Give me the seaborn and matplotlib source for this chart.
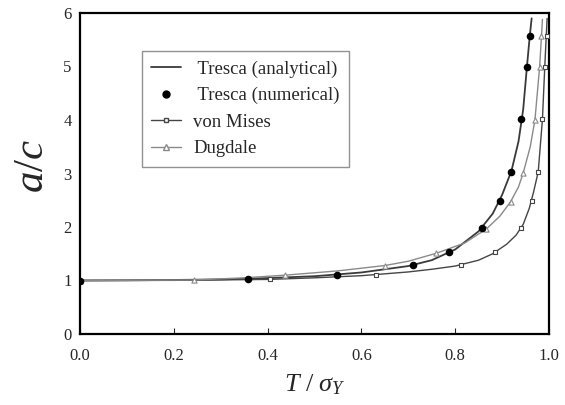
import matplotlib
matplotlib.use("Agg")
import matplotlib.pyplot as plt
import seaborn as sns
import pandas as pd
from matplotlib.lines import Line2D

# ---- data ----
tresca_an_x = [0.0, 0.1, 0.2, 0.3, 0.4, 0.5, 0.6, 0.7, 0.75, 0.8, 0.85, 0.88, 0.9, 0.92, 0.935, 0.945, 0.953, 0.959, 0.963]
tresca_an_y = [1.0, 1.003, 1.01, 1.02, 1.045, 1.08, 1.15, 1.27, 1.38, 1.58, 1.92, 2.25, 2.6, 3.05, 3.6, 4.2, 5.0, 5.57, 5.9]

tresca_num_x = [0.0, 0.359, 0.548, 0.711, 0.786, 0.858, 0.895, 0.918, 0.941, 0.953, 0.959]
tresca_num_y = [1.0, 1.03, 1.11, 1.29, 1.53, 1.98, 2.49, 3.03, 4.01, 5.0, 5.57]

mises_line_x = [0.0, 0.2, 0.4, 0.5, 0.6, 0.7, 0.75, 0.8, 0.85, 0.88, 0.91, 0.93, 0.945, 0.958, 0.967, 0.977, 0.986, 0.991, 0.996]
mises_line_y = [1.0, 1.003, 1.02, 1.05, 1.09, 1.16, 1.21, 1.27, 1.38, 1.50, 1.68, 1.85, 2.05, 2.35, 2.65, 3.03, 4.01, 5.0, 5.9]
mises_pts_x = [0.0, 0.405, 0.632, 0.813, 0.884, 0.941, 0.964, 0.977, 0.986, 0.991, 0.995]
mises_pts_y = [1.0, 1.03, 1.11, 1.29, 1.53, 1.98, 2.49, 3.03, 4.01, 5.0, 5.57]

dug_line_x = [0.0, 0.244, 0.35, 0.4375, 0.55, 0.65, 0.7, 0.76, 0.82, 0.866, 0.895, 0.918, 0.935, 0.945, 0.96, 0.97, 0.98, 0.984, 0.986]
dug_line_y = [1.0, 1.01, 1.05, 1.10, 1.18, 1.28, 1.36, 1.51, 1.70, 1.96, 2.2, 2.47, 2.75, 3.01, 3.5, 4.0, 4.99, 5.57, 5.88]
dug_pts_x = [0.0, 0.244, 0.4375, 0.65, 0.76, 0.866, 0.918, 0.945, 0.97, 0.980, 0.984]
dug_pts_y = [1.0, 1.01, 1.10, 1.28, 1.51, 1.96, 2.47, 3.01, 4.0, 4.99, 5.57]

x_ticks = [0.0, 0.2, 0.4, 0.6, 0.8, 1.0]
x_ticklabels = ["0.0", "0.2", "0.4", "0.6", "0.8", "1.0"]
y_ticks = [0, 1, 2, 3, 4, 5, 6]

sns.set_style("white")
plt.rcParams["font.family"] = ["Liberation Serif", "DejaVu Serif"]
plt.rcParams["mathtext.fontset"] = "custom"
plt.rcParams["mathtext.rm"] = "Liberation Serif"
plt.rcParams["mathtext.it"] = "Liberation Serif:italic"

fig = plt.figure(figsize=(5.65, 4.05), dpi=100)
ax = fig.add_axes([80/565, 71/405, 469/565, 321/405])

c_an = "#3a3a3a"
c_vm = "#454545"
c_dg = "#8a8a8a"

sns.lineplot(x=tresca_an_x, y=tresca_an_y, ax=ax, color=c_an, lw=1.3, sort=False, estimator=None)
sns.lineplot(x=mises_line_x, y=mises_line_y, ax=ax, color=c_vm, lw=1.0, sort=False, estimator=None)
sns.lineplot(x=dug_line_x, y=dug_line_y, ax=ax, color=c_dg, lw=1.0, sort=False, estimator=None)

sns.scatterplot(x=mises_pts_x, y=mises_pts_y, ax=ax, marker="s", s=10, facecolor="white",
                edgecolor=c_vm, linewidth=0.8, zorder=4)
sns.scatterplot(x=dug_pts_x, y=dug_pts_y, ax=ax, marker="^", s=14, facecolor="white",
                edgecolor=c_dg, linewidth=0.8, zorder=4)
sns.scatterplot(x=tresca_num_x, y=tresca_num_y, ax=ax, marker="o", s=30, color="black",
                edgecolor="black", linewidth=0, zorder=5)

ax.set_xlim(0, 1.0)
ax.set_ylim(0, 6)
ax.set_xticks(x_ticks)
ax.set_xticklabels(x_ticklabels)
ax.set_yticks(y_ticks)
ax.tick_params(axis="x", direction="in", length=4, width=0.8, labelsize=12, pad=10, bottom=True)
ax.tick_params(axis="y", direction="out", length=0, labelsize=12, pad=6, left=True)
for sp in ax.spines.values():
    sp.set_linewidth(1.6)
    sp.set_color("black")

ax.set_xlabel(r"$T\ /\ \sigma_Y$", fontsize=19, labelpad=6)
ax.set_ylabel(r"$a/c$", fontsize=31)
ax.yaxis.set_label_coords(-0.06, 0.525)

handles = [
    Line2D([], [], color=c_an, lw=1.3),
    Line2D([], [], ls="none", marker="o", color="black", markersize=5),
    Line2D([], [], color=c_vm, lw=1.0, marker="s", markersize=3.2, markerfacecolor="white", markeredgecolor=c_vm),
    Line2D([], [], color=c_dg, lw=1.0, marker="^", markersize=3.8, markerfacecolor="white", markeredgecolor=c_dg),
]
labels = [" Tresca (analytical)", " Tresca (numerical)", "von Mises", "Dugdale"]
leg = ax.legend(handles, labels, loc="upper left", bbox_to_anchor=(0.132, 0.882), fontsize=13.5,
                frameon=True, fancybox=False, edgecolor="#777777", borderpad=0.5, borderaxespad=0,
                labelspacing=0.5, handlelength=1.6, handletextpad=0.65)
leg.get_frame().set_linewidth(1.0)

fig.savefig("out.png", dpi=100)
